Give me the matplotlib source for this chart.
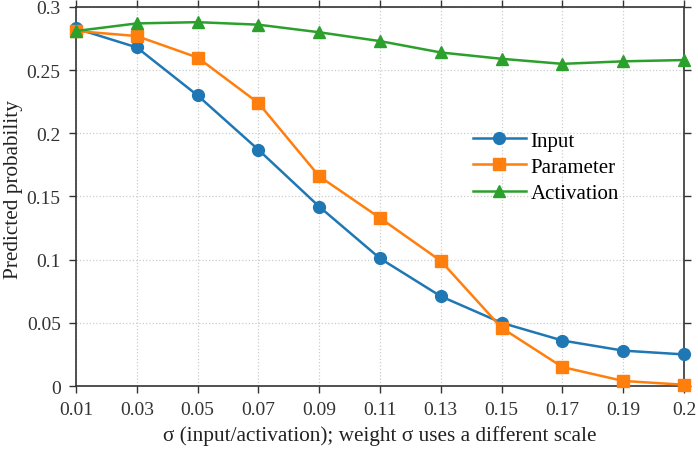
import matplotlib
matplotlib.use("Agg")
import matplotlib.pyplot as plt

sigma_labels = ["0.01", "0.03", "0.05", "0.07", "0.09", "0.11", "0.13", "0.15", "0.17", "0.19", "0.2"]
input_vals = [0.283, 0.268, 0.230, 0.187, 0.142, 0.101, 0.071, 0.050, 0.036, 0.028, 0.025]
param_vals = [0.281, 0.277, 0.260, 0.224, 0.166, 0.133, 0.099, 0.046, 0.015, 0.004, 0.001]
act_vals = [0.281, 0.287, 0.288, 0.286, 0.280, 0.273, 0.264, 0.259, 0.255, 0.257, 0.258]
y_ticks = [0, 0.05, 0.1, 0.15, 0.2, 0.25, 0.3]
y_tick_labels = ["0", "0.05", "0.1", "0.15", "0.2", "0.25", "0.3"]

plt.rcParams['font.family'] = ['Liberation Serif', 'DejaVu Serif']
plt.rcParams['mathtext.fontset'] = 'stix'

fig = plt.figure(figsize=(6.98, 4.52), dpi=100)
ax = fig.add_axes([76/698, 1-387/452, (684-76)/698, (387-8)/452])

x = list(range(len(sigma_labels)))
ax.plot(x, input_vals, '-o', color='#1f77b4', lw=1.8, ms=8.5, label='Input', clip_on=False, zorder=3)
ax.plot(x, param_vals, '-s', color='#ff7f0e', lw=1.8, ms=8, label='Parameter', clip_on=False, zorder=3)
ax.plot(x, act_vals, '-^', color='#2ca02c', lw=1.8, ms=9, label='Activation', clip_on=False, zorder=3)

ax.set_xlim(0, len(sigma_labels) - 1)
ax.set_ylim(0, 0.3)
ax.set_xticks(x)
ax.set_xticklabels(sigma_labels)
ax.set_yticks(y_ticks)
ax.set_yticklabels(y_tick_labels)
ax.tick_params(direction='out', length=5, width=1, colors='#333333', labelcolor='#333333',
               labelsize=14, top=True, right=True, pad=6)
for s in ax.spines.values():
    s.set_color('#333333')
    s.set_linewidth(1.2)
ax.grid(True, linestyle=':', color='#cccccc', linewidth=0.9)
ax.set_axisbelow(True)

ax.set_xlabel("σ (input/activation); weight σ uses a different scale", fontsize=15.3, color='#222222', labelpad=5)
ax.set_ylabel("Predicted probability", fontsize=15.3, color='#222222')
ax.yaxis.set_label_coords(-0.087, 0.52)

ax.legend(loc='upper left', bbox_to_anchor=(0.64, 0.695), frameon=False, fontsize=15,
          handlelength=2.5, handletextpad=0.25, labelspacing=0.32, borderaxespad=0)

fig.savefig("out.png", dpi=100)
